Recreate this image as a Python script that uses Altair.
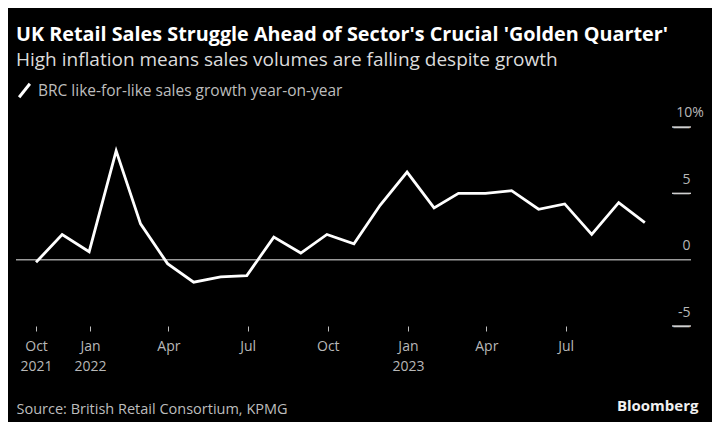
import altair as alt
import pandas as pd

# ---- data ----
months = [
    "2021-10-31", "2021-11-30", "2021-12-31", "2022-01-31", "2022-02-28", "2022-03-31",
    "2022-04-30", "2022-05-31", "2022-06-30", "2022-07-31", "2022-08-31", "2022-09-30",
    "2022-10-31", "2022-11-30", "2022-12-31", "2023-01-31", "2023-02-28", "2023-03-31",
    "2023-04-30", "2023-05-31", "2023-06-30", "2023-07-31", "2023-08-31", "2023-09-30",
]
lfl_growth = [
    -0.2, 1.9, 0.6, 8.2, 2.7, -0.3,
    -1.7, -1.3, -1.2, 1.7, 0.5, 1.9,
    1.2, 4.1, 6.6, 3.9, 5.0, 5.0,
    5.2, 3.8, 4.2, 1.9, 4.3, 2.8,
]
series_name = "BRC like-for-like sales growth year-on-year"
y_label_ticks = [-5, 0, 5]
y_top_tick = [10]
y_tick_marks = [-5, 5, 10]
zero_line = [0]
x_tick_dates = [(2021, 10, 31), (2022, 1, 1), (2022, 4, 1), (2022, 7, 1),
                (2022, 10, 1), (2023, 1, 1), (2023, 4, 1), (2023, 7, 1)]
x_domain = [(2021, 10, 8), (2023, 11, 22)]

title_text = "UK Retail Sales Struggle Ahead of Sector's Crucial 'Golden Quarter'"
subtitle_text = "High inflation means sales volumes are falling despite growth"
source_text = "Source: British Retail Consortium, KPMG"
brand_text = "Bloomberg"

df = pd.DataFrame({
    "date": [m + "T00:00:00" for m in months],
    "value": lfl_growth,
    "series": series_name,
})
zero_df = pd.DataFrame({"value": zero_line})
ticks_df = pd.DataFrame({"value": y_tick_marks, "dash": ["\u2014"] * len(y_tick_marks)})
top_df = pd.DataFrame({"value": y_top_tick, "label": [f"{v}%" for v in y_top_tick]})

FONT = "Open Sans"
GREY_TXT = "#b8b8b8"

def dt(t):
    return alt.DateTime(year=t[0], month=t[1], date=t[2])

x_scale = alt.Scale(domain=[dt(d) for d in x_domain])
y_scale = alt.Scale(domain=[-5, 10], nice=False, zero=False)

x_axis = alt.Axis(
    values=[dt(d) for d in x_tick_dates],
    labelExpr="month(datum.value) == 0 || date(datum.value) > 1 ? "
              "[timeFormat(datum.value, '%b'), timeFormat(datum.value, '%Y')] : "
              "timeFormat(datum.value, '%b')",
    domain=False, grid=False,
    tickSize=5, tickColor="#bdbdbd", tickWidth=1,
    labelFont=FONT, labelFontSize=14, labelColor=GREY_TXT,
    labelPadding=8, labelLineHeight=20, labelAlign="center",
    labelFlush=False, labelOverlap=False, labelBound=False,
    title=source_text, titleFont=FONT, titleFontSize=14.5, titleFontWeight="normal",
    titleColor="#bdbdbd", titleAlign="left", titleBaseline="alphabetic",
    titleAnchor="start", titleX=0, titleY=87,
)

y_axis = alt.Axis(
    orient="right", values=y_label_ticks,
    labelExpr="datum.value < 0 ? '-' + abs(datum.value) : '' + datum.value",
    domain=False, ticks=False, tickSize=0, grid=False,
    labelFont=FONT, labelFontSize=14, labelColor=GREY_TXT,
    labelAlign="right", labelBaseline="alphabetic", labelOffset=-10, labelPadding=-1,
    labelFlush=False, labelOverlap=False, labelBound=False,
    title=brand_text, titleFont=FONT, titleFontSize=15, titleFontWeight="bold",
    titleColor="#f0f0f0", titleAngle=0, titleAlign="right", titleBaseline="alphabetic",
    titleX=7, titleY=283,
)

zero = alt.Chart(zero_df).mark_rule(color="#9a9a9a", strokeWidth=1.5).encode(
    y=alt.Y("value:Q", scale=y_scale, axis=y_axis)
)

# short right-hand tick marks at -5, 5 and 10
tick_rules = alt.Chart(ticks_df).mark_rule(
    color="#d0d0d0", strokeWidth=1.4, strokeCap="butt",
).encode(
    y=alt.Y("value:Q", scale=y_scale, axis=y_axis),
    x=alt.value(656), x2=alt.value(675),
)

tick_glyphs = alt.Chart(ticks_df).mark_text(
    font="DejaVu Sans", fontSize=18, color="#d0d0d0", align="center", baseline="middle",
).encode(
    y=alt.Y("value:Q", scale=y_scale, axis=y_axis),
    x=alt.value(665.5),
    text="dash:N",
)

top_label = alt.Chart(top_df).mark_text(
    font=FONT, fontSize=14, color=GREY_TXT, align="center", baseline="alphabetic", dy=-10,
).encode(
    y=alt.Y("value:Q", scale=y_scale, axis=y_axis),
    x=alt.value(674),
    text="label:N",
)

line = alt.Chart(df).mark_line(strokeWidth=2.8, strokeJoin="miter").encode(
    x=alt.X("date:T", scale=x_scale, axis=x_axis),
    y=alt.Y("value:Q", scale=y_scale, axis=y_axis),
    color=alt.Color(
        "series:N",
        scale=alt.Scale(range=["#ffffff"]),
        legend=alt.Legend(
            title=None, orient="none", legendX=0, legendY=-45,
            symbolType="M-0.8,1L0.8,-1", symbolSize=180, symbolStrokeWidth=3,
            symbolStrokeColor="#ffffff", symbolFillColor="transparent",
            labelFont=FONT, labelFontSize=15.5, labelColor="#bdbdbd",
            labelOffset=5, labelLimit=0, padding=0,
        ),
    ),
)

chart = (
    alt.layer(zero, line, top_label, tick_rules, tick_glyphs)
    .properties(
        width=675, height=199,
        padding={"left": 8, "top": 119, "right": 21, "bottom": 96},
        autosize=alt.AutoSizeParams(type="none"),
        title=alt.TitleParams(
            text=title_text, subtitle=subtitle_text,
            anchor="start", frame="group", orient="top",
            font=FONT, fontSize=19.8, fontWeight="bold", color="#ffffff",
            subtitleFont=FONT, subtitleFontSize=19, subtitleColor="#dcdcdc",
            subtitlePadding=6, offset=10, dy=-2,
        ),
    )
    .configure(background="#000000")
    .configure_view(stroke=None)
)

chart.save("out.html", embed_options={"renderer": "svg", "actions": False})
